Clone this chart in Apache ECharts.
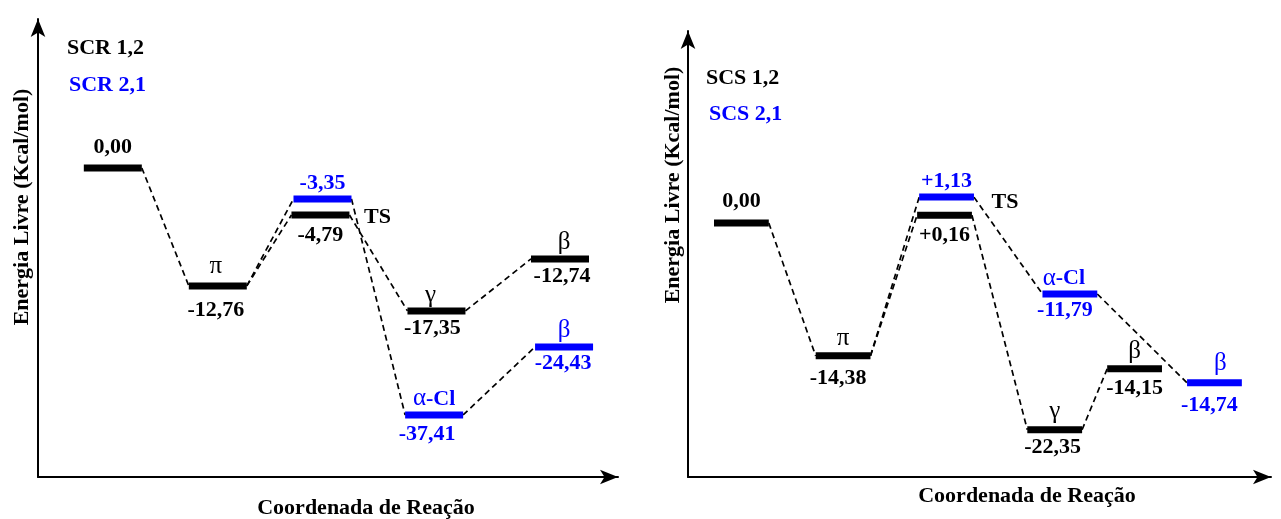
<!DOCTYPE html>
<html><head><meta charset="utf-8">
<script src="https://cdn.jsdelivr.net/npm/echarts@6/dist/echarts.min.js"></script>
<style>html,body{margin:0;padding:0;background:#fff;}#c{width:1281px;height:519px;}</style>
</head><body><div id="c"></div>
<script>
// ---------- Left panel: SCR ----------
const scrState  = ['', 'π', 'TS', 'TS', 'γ', 'α-Cl', 'β', 'β'];
const scrPath   = ['1,2', '1,2', '2,1', '1,2', '1,2', '2,1', '1,2', '2,1'];
const scrEnergy = [0.00, -12.76, -3.35, -4.79, -17.35, -37.41, -12.74, -24.43];
const scrEnergyText = ['0,00', '-12,76', '-3,35', '-4,79', '-17,35', '-37,41', '-12,74', '-24,43'];
// reaction-coordinate position and drawn (schematic) level
const scrCoord  = [12.9, 31.0, 49.05, 48.7, 68.7, 68.3, 90.0, 90.7];
const scrLevel  = [0, -17.94, -4.71, -7.15, -21.74, -37.56, -13.84, -27.22];
const scrLinks  = [[0,1],[1,2],[1,3],[3,4],[2,5],[4,6],[5,7]];
const scrLegend = ['SCR 1,2', 'SCR 2,1'];

// ---------- Right panel: SCS ----------
const scsState  = ['', 'π', 'TS', 'TS', 'γ', 'α-Cl', 'β', 'β'];
const scsPath   = ['1,2', '1,2', '2,1', '1,2', '1,2', '2,1', '1,2', '2,1'];
const scsEnergy = [0.00, -14.38, 1.13, 0.16, -22.35, -11.79, -14.15, -14.74];
const scsEnergyText = ['0,00', '-14,38', '+1,13', '+0,16', '-22,35', '-11,79', '-14,15', '-14,74'];
const scsCoord  = [9.16, 26.6, 44.35, 44.0, 62.9, 65.5, 76.6, 90.3];
const scsLevel  = [0, -14.38, 2.81, 0.86, -22.38, -7.68, -15.79, -17.30];
const scsLinks  = [[0,1],[1,2],[1,3],[3,4],[2,5],[4,6],[5,7]];
const scsLegend = ['SCS 1,2', 'SCS 2,1'];

const xTitle = 'Coordenada de Reação';
const yTitle = 'Energia Livre (Kcal/mol)';

// ---------- styling ----------
const BLACK = '#000000', BLUE = '#0000ff';
const FONT = '"Liberation Serif","Times New Roman",serif';
const NUM_FONT = 'bold 22px ' + FONT;
const GREEK_FONT = '25px ' + FONT;
const colorOf = p => p === '2,1' ? BLUE : BLACK;

// label placement (pixel offsets from bar centre): [nameDx, nameDy, energyDx, energyDy]
const scrLabelPos = [
  null,
  [-2,-19, -2,24],
  null, null,
  [-6,-15, -4,17],
  [0,-16, -7,19],
  [4,-17, 2,17],
  [0,-16, -1,16]
];
const scsLabelPos = [
  null,
  [0,-17, -5,22],
  null, null,
  [0,-18, -2,18],
  [-6,-16, -5,16],
  [0,-17, 0,19],
  [6,-19, -5,22]
];
const scrSpecial = {energyAbove: {0:-21, 2:-16}, energyBelow: {3:20}, ts: {idx:3, dx:28, dy:2}};
const scsSpecial = {energyAbove: {0:-22, 2:-16}, energyBelow: {3:20}, ts: {idx:2, dx:31, dy:5}};

function nameText(s, color) {
  if (s === 'α-Cl') {
    return {text: '{g|α}{b|-Cl}', rich: {g: {font: GREEK_FONT, fill: color}, b: {font: NUM_FONT, fill: color}}};
  }
  return {text: s, font: GREEK_FONT};
}

function panel(gi, st, path, etext, coord, level, links, halfW, labelPos, special) {
  const levelSeries = {
    type: 'custom', xAxisIndex: gi, yAxisIndex: gi, clip: false, z: 3,
    data: coord.map((c, i) => [c, level[i], i]),
    renderItem: function (params, api) {
      const i = params.dataIndex;
      const a = api.coord([coord[i] - halfW, level[i]]);
      const b = api.coord([coord[i] + halfW, level[i]]);
      const col = colorOf(path[i]);
      const cx = (a[0] + b[0]) / 2, cy = a[1];
      const ch = [{type: 'rect', shape: {x: a[0], y: cy - 3.5, width: b[0] - a[0], height: 7}, style: {fill: col}}];
      const txt = (x, y, style) => ({type: 'text', x: x, y: y,
        style: Object.assign({fill: col, align: 'center', verticalAlign: 'middle'}, style)});
      if (labelPos[i]) {
        const lp = labelPos[i];
        ch.push(txt(cx + lp[0], cy + lp[1], nameText(st[i], col)));
        ch.push(txt(cx + lp[2], cy + lp[3], {text: etext[i], font: NUM_FONT}));
      } else {
        if (special.energyAbove[i] !== undefined) ch.push(txt(cx, cy + special.energyAbove[i], {text: etext[i], font: NUM_FONT}));
        if (special.energyBelow[i] !== undefined) ch.push(txt(cx, cy + special.energyBelow[i], {text: etext[i], font: NUM_FONT}));
      }
      if (special.ts.idx === i) {
        ch.push({type: 'text', x: b[0] + special.ts.dx, y: cy + special.ts.dy,
          style: {text: st[i], font: NUM_FONT, fill: BLACK, align: 'center', verticalAlign: 'middle'}});
      }
      return {type: 'group', children: ch};
    }
  };
  const linkSeries = {
    type: 'custom', xAxisIndex: gi, yAxisIndex: gi, clip: false, z: 2,
    data: links.map(l => [coord[l[0]], level[l[0]], coord[l[1]], level[l[1]]]),
    renderItem: function (params, api) {
      const l = links[params.dataIndex];
      const p1 = api.coord([coord[l[0]] + halfW, level[l[0]]]);
      const p2 = api.coord([coord[l[1]] - halfW, level[l[1]]]);
      return {type: 'line', shape: {x1: p1[0], y1: p1[1], x2: p2[0], y2: p2[1]},
        style: {stroke: BLACK, lineWidth: 1.7, lineDash: [6, 4], fill: null}};
    }
  };
  return [linkSeries, levelSeries];
}

function axis(gi, min, max) {
  return {
    gridIndex: gi, type: 'value', min: min, max: max,
    axisLine: {show: true, onZero: false, symbol: ['none', 'arrow'], symbolSize: [11, 18],
      lineStyle: {color: BLACK, width: 2}},
    axisTick: {show: false}, axisLabel: {show: false}, splitLine: {show: false}
  };
}

const chart = echarts.init(document.getElementById('c'), null, {renderer: 'canvas'});
const gText = (x, y, text, color, rot) => ({type: 'text', x: x, y: y, rotation: rot || 0,
  style: {text: text, font: NUM_FONT, fill: color, align: rot ? 'center' : 'left', verticalAlign: 'middle'}});

chart.setOption({
  animation: false,
  backgroundColor: '#ffffff',
  grid: [
    {left: 38, top: 19, width: 580, height: 458},
    {left: 688, top: 31, width: 583, height: 446}
  ],
  xAxis: [axis(0, 0, 100), axis(1, 0, 100)],
  yAxis: [axis(0, -47, 22.65), axis(1, -27.5, 20.8)],
  series: [].concat(
    panel(0, scrState, scrPath, scrEnergyText, scrCoord, scrLevel, scrLinks, 5.0, scrLabelPos, scrSpecial),
    panel(1, scsState, scsPath, scsEnergyText, scsCoord, scsLevel, scsLinks, 4.7, scsLabelPos, scsSpecial)
  ),
  graphic: [
    gText(67, 48, scrLegend[0], BLACK),
    gText(69, 85, scrLegend[1], BLUE),
    gText(706, 78, scsLegend[0], BLACK),
    gText(709, 114, scsLegend[1], BLUE),
    {type: 'text', x: 366, y: 508, style: {text: xTitle, font: NUM_FONT, fill: BLACK, align: 'center', verticalAlign: 'middle'}},
    {type: 'text', x: 1027, y: 496, style: {text: xTitle, font: NUM_FONT, fill: BLACK, align: 'center', verticalAlign: 'middle'}},
    gText(22, 207, yTitle, BLACK, Math.PI / 2),
    gText(673, 185, yTitle, BLACK, Math.PI / 2)
  ]
});
</script></body></html>
